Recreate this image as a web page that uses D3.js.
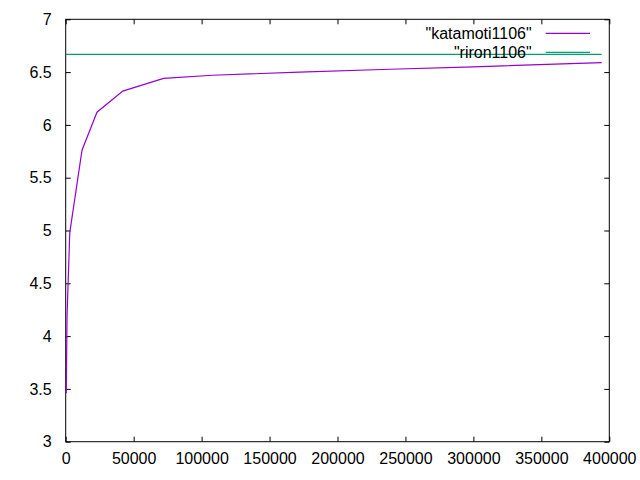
<!DOCTYPE html>
<html>
<head>
<meta charset="utf-8">
<script src="https://cdn.jsdelivr.net/npm/d3@7"></script>
<style>
  html, body { margin: 0; padding: 0; background: #fff; }
  svg { display: block; font-family: "Liberation Sans", Arial, sans-serif; }
</style>
</head>
<body>
<svg id="chart" width="640" height="480"></svg>
<script>
// ---- data ----
const xValues = [400, 1000, 3000, 12000, 23000, 42000, 72000, 108000, 172000, 238600, 300000, 394400];
const katamoti = [3.46, 4.20, 4.98, 5.76, 6.12, 6.32, 6.441, 6.470, 6.50, 6.527, 6.55, 6.589];
const riron = [6.667, 6.667, 6.667, 6.667, 6.667, 6.667, 6.667, 6.667, 6.667, 6.667, 6.667, 6.667];
const seriesNames = ['"katamoti1106"', '"riron1106"'];
const seriesColors = ["#9400d3", "#009e73"];
const xTicks = [0, 50000, 100000, 150000, 200000, 250000, 300000, 350000, 400000];
const yTicks = [3, 3.5, 4, 4.5, 5, 5.5, 6, 6.5, 7];

// ---- layout ----
(function () {
const svg = d3.select("#chart");
const mLeft = 65.7, mRight = 609.3, mTop = 19.3, mBottom = 441.7;

const x = d3.scaleLinear().domain([0, 400000]).range([mLeft, mRight]);
const y = d3.scaleLinear().domain([3, 7]).range([mBottom, mTop]);

const fontSize = 16;

const xAxis = d3.axisBottom(x).tickValues(xTicks).tickFormat(d => String(d))
  .tickSizeInner(-5).tickSizeOuter(0).tickPadding(11);
const xAxisTop = d3.axisTop(x).tickValues(xTicks).tickFormat("")
  .tickSizeInner(-5).tickSizeOuter(0);
const yAxis = d3.axisLeft(y).tickValues(yTicks).tickFormat(d => String(d))
  .tickSizeInner(-5).tickSizeOuter(0).tickPadding(14);
const yAxisRight = d3.axisRight(y).tickValues(yTicks).tickFormat("")
  .tickSizeInner(-5).tickSizeOuter(0);

function styleAxis(g) {
  g.select(".domain").remove();
  g.selectAll(".tick line").attr("stroke", "#000").attr("stroke-width", 1);
  g.selectAll(".tick text").attr("fill", "#000")
    .style("font-size", fontSize + "px")
    .style("font-family", '"Liberation Sans", Arial, sans-serif');
}

svg.append("g").attr("transform", `translate(0,${mBottom})`).call(xAxis).call(styleAxis);
svg.append("g").attr("transform", `translate(0,${mTop})`).call(xAxisTop).call(styleAxis);
svg.append("g").attr("transform", `translate(${mLeft},0)`).call(yAxis).call(styleAxis);
svg.append("g").attr("transform", `translate(${mRight},0)`).call(yAxisRight).call(styleAxis);

svg.append("rect")
  .attr("x", mLeft).attr("y", mTop)
  .attr("width", mRight - mLeft).attr("height", mBottom - mTop)
  .attr("fill", "none").attr("stroke", "#000").attr("stroke-width", 1);

const line = d3.line().x(d => x(d[0])).y(d => y(d[1]));
const series = [katamoti, riron];
series.forEach((vals, i) => {
  const pts = xValues.map((xv, j) => [xv, vals[j]]);
  if (i === 1) pts.unshift([0, vals[0]]);
  svg.append("path")
    .datum(pts)
    .attr("d", line)
    .attr("fill", "none")
    .attr("stroke", seriesColors[i])
    .attr("stroke-width", 1.2);
});

const legendTextX = 531.7, sampleX1 = 545.7, sampleX2 = 590;
const legendY = [33.3, 52.3];
seriesNames.forEach((name, i) => {
  svg.append("text")
    .attr("x", legendTextX).attr("y", legendY[i])
    .attr("dy", "0.35em")
    .attr("text-anchor", "end")
    .style("font-size", fontSize + "px")
    .attr("fill", "#000")
    .text(name);
  svg.append("line")
    .attr("x1", sampleX1).attr("x2", sampleX2)
    .attr("y1", legendY[i]).attr("y2", legendY[i])
    .attr("stroke", seriesColors[i]).attr("stroke-width", 1.2);
});
})();
</script>
</body>
</html>
